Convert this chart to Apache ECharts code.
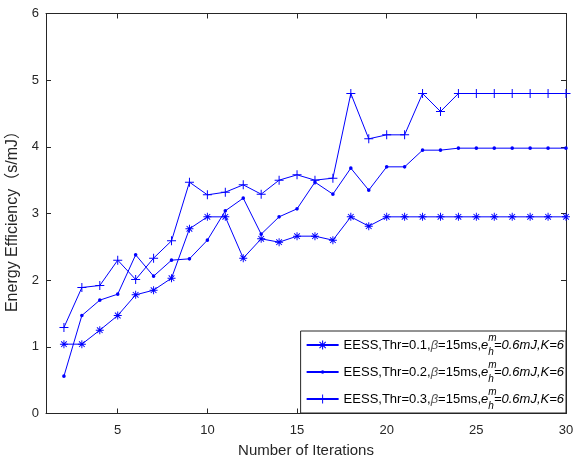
<!DOCTYPE html>
<html>
<head>
<meta charset="utf-8">
<script src="https://cdn.jsdelivr.net/npm/echarts@6/dist/echarts.min.js"></script>
<style>html,body{margin:0;padding:0;background:#fff}#c{width:575px;height:457px}</style>
</head>
<body>
<div id="c"></div>
<script>
const iterations = [2,3,4,5,6,7,8,9,10,11,12,13,14,15,16,17,18,19,20,21,22,23,24,25,26,27,28,29,30];
const thr01 = [1.04,1.04,1.25,1.47,1.78,1.85,2.03,2.77,2.95,2.95,2.33,2.62,2.57,2.66,2.66,2.60,2.95,2.81,2.95,2.95,2.95,2.95,2.95,2.95,2.95,2.95,2.95,2.95,2.95];
const thr02 = [0.56,1.47,1.70,1.79,2.38,2.06,2.30,2.32,2.60,3.04,3.23,2.69,2.95,3.07,3.47,3.29,3.68,3.35,3.70,3.70,3.95,3.95,3.98,3.98,3.98,3.98,3.98,3.98,3.98];
const thr03 = [1.29,1.89,1.92,2.30,2.01,2.33,2.59,3.47,3.28,3.32,3.43,3.29,3.50,3.58,3.50,3.53,4.80,4.12,4.18,4.18,4.80,4.53,4.80,4.80,4.80,4.80,4.80,4.80,4.80];
const xTicks = [5,10,15,20,25,30];
const yTicks = [0,1,2,3,4,5,6];
const thrLabels = ['0.1','0.2','0.3'];
const seriesNames = thrLabels.map(t => 'EESS,Thr=' + t + ',β=15ms,e_h^m=0.6mJ,K=6');

const FONT = "'Liberation Sans', Arial, 'Noto Sans CJK SC', sans-serif";
const BLUE = '#0000ff';

function bar(theta, L, w) {
  const c = Math.cos(theta), s = Math.sin(theta);
  const pts = [[-L,-w],[L,-w],[L,w],[-L,w]].map(p => [p[0]*c - p[1]*s, p[0]*s + p[1]*c]);
  return 'M' + pts.map(p => p[0].toFixed(3) + ',' + p[1].toFixed(3)).join(' L') + ' Z';
}
const asteriskPath = 'path://' + [0, Math.PI/4, Math.PI/2, 3*Math.PI/4].map(a => bar(a, 10, 1.2)).join(' ');
const plusPath = 'path://' + [0, Math.PI/2].map(a => bar(a, 10, 1.1)).join(' ');
const dotPath = 'path://M-10,-10 L-9.99,-10 L-9.99,-9.99 Z M10,10 L9.99,10 L9.99,9.99 Z M-4,0 A4,4 0 1,0 4,0 A4,4 0 1,0 -4,0 Z';

const symbols = [asteriskPath, dotPath, plusPath];
const sizes = [8, 9, 9];
const values = [thr01, thr02, thr03];

const chart = echarts.init(document.getElementById('c'), null, {renderer: 'canvas'});
const axisTxt = {color: '#262626', fontSize: 13, fontFamily: FONT};
chart.setOption({
  animation: false,
  backgroundColor: '#fff',
  grid: {left: 46, right: 9, top: 13.5, bottom: 43.5, containLabel: false, outerBoundsMode: 'none'},
  xAxis: [{
    type: 'value', min: 1, max: 30, position: 'bottom',
    name: 'Number of Iterations', nameLocation: 'middle', nameGap: 30,
    nameTextStyle: {color: '#262626', fontSize: 15, fontFamily: FONT},
    axisLine: {show: true, onZero: false, lineStyle: {color: '#262626', width: 1}},
    axisTick: {show: true, inside: true, length: 5, customValues: xTicks, lineStyle: {color: '#262626'}},
    axisLabel: {customValues: xTicks, margin: 10, ...axisTxt},
    splitLine: {show: false}
  }, {
    type: 'value', min: 1, max: 30, position: 'top',
    axisLine: {show: true, onZero: false, lineStyle: {color: '#262626', width: 1}},
    axisTick: {show: true, inside: true, length: 5, customValues: xTicks, lineStyle: {color: '#262626'}},
    axisLabel: {show: false},
    splitLine: {show: false}
  }],
  yAxis: [{
    type: 'value', min: 0, max: 6, interval: 1, position: 'left',
    name: 'Energy Efficiency（s/mJ）', nameLocation: 'middle', nameGap: 18,
    nameTextStyle: {color: '#262626', fontSize: 16, fontFamily: FONT, padding: [0, 8, 0, 0]},
    axisLine: {show: true, onZero: false, lineStyle: {color: '#262626', width: 1}},
    axisTick: {show: true, inside: true, length: 5, lineStyle: {color: '#262626'}},
    axisLabel: {margin: 7, ...axisTxt},
    splitLine: {show: false}
  }, {
    type: 'value', min: 0, max: 6, interval: 1, position: 'right',
    axisLine: {show: true, onZero: false, lineStyle: {color: '#262626', width: 1}},
    axisTick: {show: true, inside: true, length: 5, lineStyle: {color: '#262626'}},
    axisLabel: {show: false},
    splitLine: {show: false}
  }],
  legend: {
    orient: 'vertical', right: 9, bottom: 44,
    backgroundColor: '#fff', borderColor: '#262626', borderWidth: 1, borderRadius: 0,
    padding: [2, 2, 2, 5], itemWidth: 32, itemHeight: 11, itemGap: 3,
    selectedMode: false,
    data: seriesNames,
    formatter: function (name) {
      const i = seriesNames.indexOf(name);
      return '{n|EESS,Thr=' + thrLabels[i] + ',}{b|β}{n|=15ms,}{it|e}{sup|m}{sub|h}{it|=0.6mJ,K=6}';
    },
    textStyle: {
      fontFamily: FONT, fontSize: 13, color: '#000',
      rich: {
        n: {fontFamily: FONT, fontSize: 13, color: '#000', lineHeight: 24},
        b: {fontFamily: FONT, fontSize: 13, color: '#555', fontStyle: 'italic', lineHeight: 24},
        it: {fontFamily: FONT, fontSize: 13, color: '#000', fontStyle: 'italic', lineHeight: 24},
        sup: {fontFamily: FONT, fontSize: 10, color: '#000', fontStyle: 'italic', lineHeight: 11, verticalAlign: 'top', width: 0, align: 'left'},
        sub: {fontFamily: FONT, fontSize: 10, color: '#000', fontStyle: 'italic', lineHeight: 11, verticalAlign: 'bottom'}
      }
    }
  },
  series: seriesNames.map((nm, k) => ({
    name: nm, type: 'line',
    data: iterations.map((x, i) => [x, values[k][i]]),
    symbol: symbols[k], symbolSize: sizes[k], showSymbol: true, showAllSymbol: true,
    color: BLUE,
    itemStyle: {color: BLUE, borderWidth: 0},
    lineStyle: {color: BLUE, width: 1},
    emphasis: {disabled: true},
    z: 2
  }))
});
</script>
</body>
</html>
